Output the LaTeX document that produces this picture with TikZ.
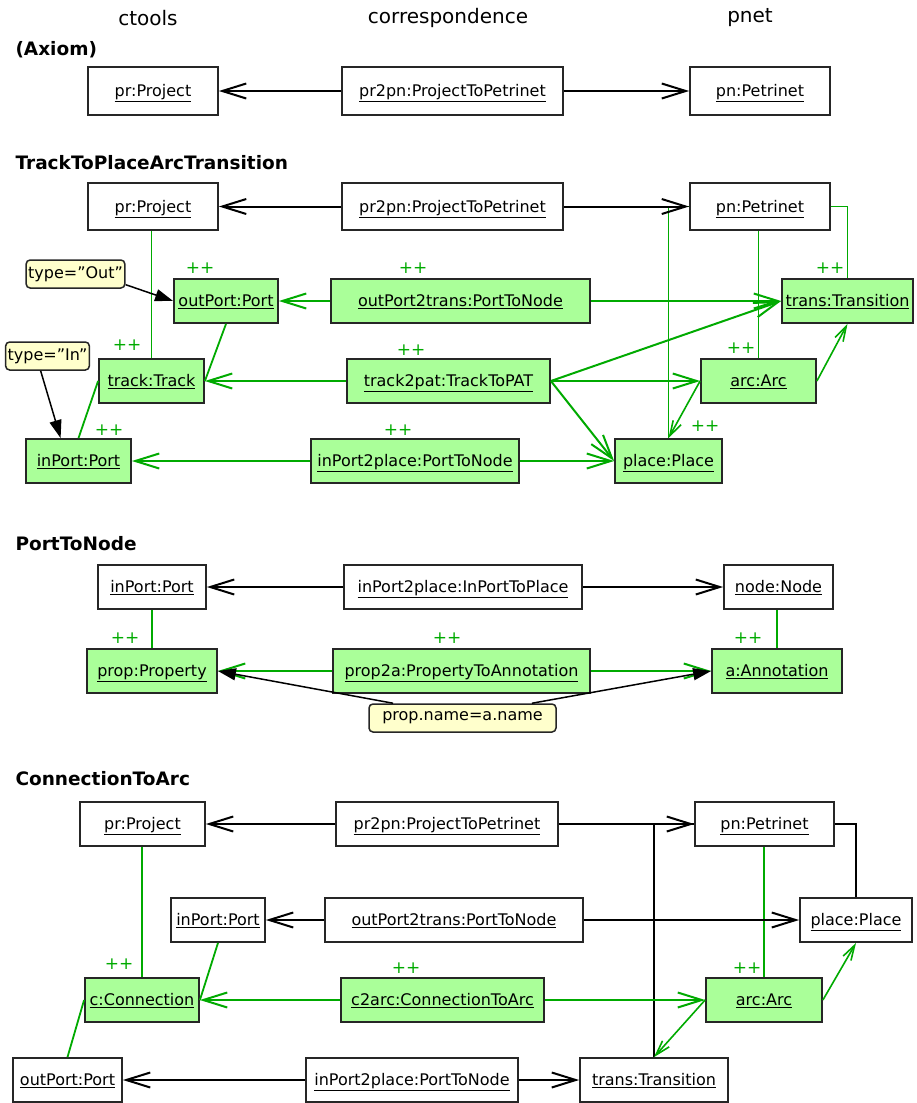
\documentclass[tikz,border=0pt]{standalone}
\usepackage{fontspec}
\setmainfont{DejaVu Sans}
\usetikzlibrary{arrows.meta}
\definecolor{newfill}{RGB}{170,255,153}
\definecolor{newline}{RGB}{0,170,0}
\definecolor{notefill}{RGB}{255,255,204}
\newcommand{\obj}[1]{\raisebox{0pt}[\height][1pt]{\underline{#1}}}
\tikzset{
  obj/.style={draw=black!85, line width=1.8pt, fill=white, minimum height=44pt, inner sep=0pt, font=\fontsize{16}{18}\selectfont},
  newobj/.style={obj, fill=newfill},
  note/.style={draw=black!85, line width=1.5pt, fill=notefill, rounded corners=4pt, minimum height=28pt, inner sep=2pt, font=\fontsize{16}{18}\selectfont},
  plus/.style={text=newline, font=\fontsize{17}{18}\selectfont},
  head/.style={font=\fontsize{20}{24}\selectfont},
  rulename/.style={font=\fontsize{18.5}{20}\selectfont\bfseries, anchor=west},
  corr/.style={-{Straight Barb[length=24pt,width=15pt]}, line width=2pt},
  corrnew/.style={corr, draw=newline},
  link/.style={line width=1.8pt},
  linknew/.style={link, draw=newline},
  edgenew/.style={draw=newline, line width=1.6pt, -{Straight Barb[length=15pt,width=9pt]}},
  cond/.style={line width=1.5pt, -{Triangle[length=18pt,width=12pt]}},
}
\begin{document}
\begin{tikzpicture}[x=1pt,y=-1pt]
\useasboundingbox (0,0) rectangle (917,1103);

\node[head] (hctools) at (148,18) {ctools};
\node[head] (hcorr) at (448,18) {correspondence};
\node[head] (hpnet) at (750,18) {pnet};

% (Axiom)
\node[rulename] (taxiom) at (12,50) {(Axiom)};
\node[obj, minimum width=130pt, minimum height=48pt] (axPr) at (153,91) {\obj{pr:Project}};
\node[obj, minimum width=221pt, minimum height=48pt] (axCorr) at (452.5,91) {\obj{pr2pn:ProjectToPetrinet}};
\node[obj, minimum width=140pt, minimum height=48pt] (axPn) at (760,91) {\obj{pn:Petrinet}};
\draw[corr] (axCorr) -- (axPr);
\draw[corr] (axCorr) -- (axPn);

% TrackToPlaceArcTransition
\node[rulename] (ttrack) at (12,163) {TrackToPlaceArcTransition};
\node[obj, minimum width=130pt, minimum height=47pt] (tPr) at (153,206.5) {\obj{pr:Project}};
\node[obj, minimum width=221pt, minimum height=47pt] (tCorr) at (452.5,206.5) {\obj{pr2pn:ProjectToPetrinet}};
\node[obj, minimum width=140pt, minimum height=47pt] (tPn) at (760,206.5) {\obj{pn:Petrinet}};
\node[newobj, minimum width=104pt] (tOut) at (226,301) {\obj{outPort:Port}};
\node[newobj, minimum width=259pt] (tOutCorr) at (460.5,301) {\obj{outPort2trans:PortToNode}};
\node[newobj, minimum width=131pt] (tTrans) at (847.5,301) {\obj{trans:Transition}};
\node[newobj, minimum width=105pt] (tTrack) at (151.5,381) {\obj{track:Track}};
\node[newobj, minimum width=203pt] (tTrackCorr) at (448.5,381) {\obj{track2pat:TrackToPAT}};
\node[newobj, minimum width=115pt] (tArc) at (758.5,381) {\obj{arc:Arc}};
\node[newobj, minimum width=105pt] (tIn) at (78.5,461) {\obj{inPort:Port}};
\node[newobj, minimum width=208pt] (tInCorr) at (415,461) {\obj{inPort2place:PortToNode}};
\node[newobj, minimum width=107pt] (tPlace) at (668.5,461) {\obj{place:Place}};
\node[note, minimum width=97pt] (nOut) at (75.5,274) {type=\textquotedblright Out\textquotedblright};
\node[note, minimum width=81pt] (nIn) at (47.5,356) {type=\textquotedblright In\textquotedblright};
\node[plus] (tOutPlus) at (200,268) {++};
\node[plus] (tOutCorrPlus) at (413,268) {++};
\node[plus] (tTransPlus) at (830,268) {++};
\node[plus] (tTrackPlus) at (127,345) {++};
\node[plus] (tTrackCorrPlus) at (411,350) {++};
\node[plus] (tArcPlus) at (741,348) {++};
\node[plus] (tInPlus) at (109,430) {++};
\node[plus] (tInCorrPlus) at (398,430) {++};
\node[plus] (tPlacePlus) at (705,426) {++};
\draw[linknew] (tTrack.north) -- (tTrack.north |- tPr.south);
\draw[linknew] (tOut.south) -- (tTrack.east);
\draw[linknew] (tTrack.west) -- (tIn.north);
\draw[linknew, line width=1.2pt] (tPn.east) -| (tTrans.north);
\draw[linknew] (tArc.north) -- (tArc.north |- tPn.south);
\draw[linknew] (tPn.west) -| (tPlace.north);
\draw[edgenew] (tArc.east) -- (tTrans.south);
\draw[edgenew] (tArc.west) -- (tPlace.north);
\draw[corr] (tCorr) -- (tPr);
\draw[corr] (tCorr) -- (tPn);
\draw[corrnew] (tOutCorr) -- (tOut);
\draw[corrnew] (tOutCorr) -- (tTrans);
\draw[corrnew] (tTrackCorr) -- (tTrack);
\draw[corrnew] (tTrackCorr) -- (tArc);
\draw[corrnew] (tTrackCorr.east) -- (tTrans.west);
\draw[corrnew] (tTrackCorr.east) -- (tPlace.west);
\draw[corrnew] (tInCorr) -- (tIn);
\draw[corrnew] (tInCorr) -- (tPlace);
\draw[cond] (nOut.-12) -- (tOut.west);
\draw[cond] (nIn.-115) -- (tIn.128);

% PortToNode
\node[rulename] (tport) at (12,544) {PortToNode};
\node[obj, minimum width=108pt] (pIn) at (152,587) {\obj{inPort:Port}};
\node[obj, minimum width=238pt] (pCorr) at (463,587) {\obj{inPort2place:InPortToPlace}};
\node[obj, minimum width=109pt] (pNode) at (778.5,587) {\obj{node:Node}};
\node[newobj, minimum width=130pt] (pProp) at (152,671) {\obj{prop:Property}};
\node[newobj, minimum width=257pt] (pPropCorr) at (461.5,671) {\obj{prop2a:PropertyToAnnotation}};
\node[newobj, minimum width=130pt] (pAnn) at (777,671) {\obj{a:Annotation}};
\node[note, minimum width=187pt] (pNote) at (462.5,718) {prop.name=a.name};
\node[plus] (pPropPlus) at (125,638) {++};
\node[plus] (pPropCorrPlus) at (447,638) {++};
\node[plus] (pAnnPlus) at (748,638) {++};
\draw[linknew, line width=1.2pt] (pIn.south) -- (pProp.north);
\draw[linknew, line width=1.2pt] (pAnn.north) -- (pAnn.north |- pNode.south);
\draw[corr] (pCorr) -- (pIn);
\draw[corr] (pCorr) -- (pNode);
\draw[corrnew] (pPropCorr) -- (pProp);
\draw[corrnew] (pPropCorr) -- (pAnn);
\draw[cond] (pNote.168) -- (pProp.east);
\draw[cond] (pNote.12) -- (pAnn.west);

% ConnectionToArc
\node[rulename] (tconn) at (12,779) {ConnectionToArc};
\node[obj, minimum width=125pt] (cPr) at (142.5,824) {\obj{pr:Project}};
\node[obj, minimum width=222pt] (cCorr) at (447,824) {\obj{pr2pn:ProjectToPetrinet}};
\node[obj, minimum width=139pt] (cPn) at (764.5,824) {\obj{pn:Petrinet}};
\node[obj, minimum width=94pt] (cIn) at (218,920) {\obj{inPort:Port}};
\node[obj, minimum width=258pt] (cOutCorr) at (454,920) {\obj{outPort2trans:PortToNode}};
\node[obj, minimum width=112pt] (cPlace) at (856,920) {\obj{place:Place}};
\node[newobj, minimum width=114pt] (cConn) at (142,1000) {\obj{c:Connection}};
\node[newobj, minimum width=203pt] (cConnCorr) at (442.5,1000) {\obj{c2arc:ConnectionToArc}};
\node[newobj, minimum width=116pt] (cArc) at (764,1000) {\obj{arc:Arc}};
\node[obj, minimum width=109pt] (cOut) at (67.5,1080) {\obj{outPort:Port}};
\node[obj, minimum width=212pt] (cInCorr) at (412,1080) {\obj{inPort2place:PortToNode}};
\node[obj, minimum width=148pt] (cTrans) at (654,1080) {\obj{trans:Transition}};
\node[plus] (cConnPlus) at (119,964) {++};
\node[plus] (cConnCorrPlus) at (406,968) {++};
\node[plus] (cArcPlus) at (747,968) {++};
\draw[linknew] (cConn.north) -- (cConn.north |- cPr.south);
\draw[linknew] (cIn.south) -- (cConn.east);
\draw[linknew] (cConn.west) -- (cOut.north);
\draw[linknew] (cArc.north) -- (cArc.north |- cPn.south);
\draw[link] (cPn.east) -| (cPlace.north);
\draw[link] (cPn.west) -| (cTrans.north);
\draw[edgenew] (cArc.east) -- (cPlace.south);
\draw[edgenew] (cArc.west) -- (cTrans.north);
\draw[corr] (cCorr) -- (cPr);
\draw[corr] (cCorr) -- (cPn);
\draw[corr] (cOutCorr) -- (cIn);
\draw[corr] (cOutCorr) -- (cPlace);
\draw[corrnew] (cConnCorr) -- (cConn);
\draw[corrnew] (cConnCorr) -- (cArc);
\draw[corr] (cInCorr) -- (cOut);
\draw[corr] (cInCorr) -- (cTrans);
\end{tikzpicture}
\end{document}
